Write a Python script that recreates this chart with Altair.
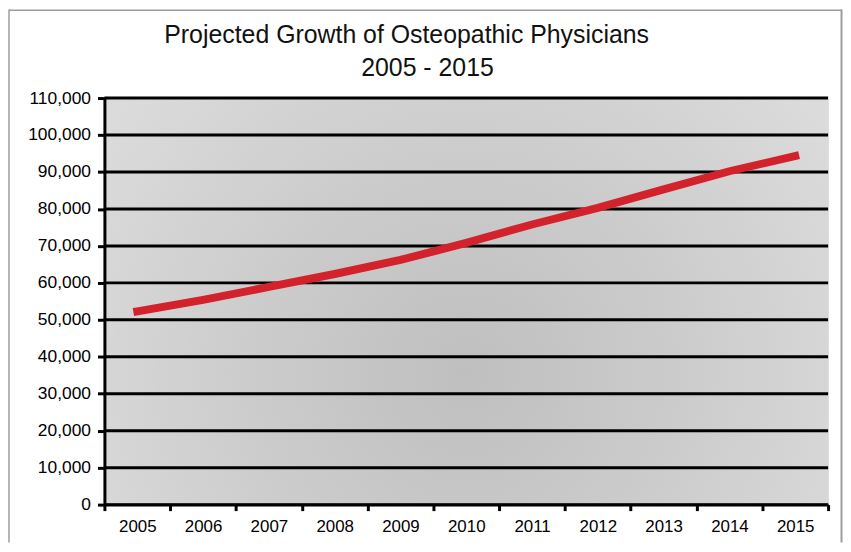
import altair as alt
import pandas as pd

years = ["2005", "2006", "2007", "2008", "2009", "2010", "2011", "2012", "2013", "2014", "2015"]
physicians = [52300, 55400, 58900, 62400, 66200, 70800, 75800, 80300, 85300, 90200, 94300]
y_ticks = [0, 10000, 20000, 30000, 40000, 50000, 60000, 70000, 80000, 90000, 100000, 110000]
title_line1 = "Projected Growth of Osteopathic Physicians"
title_line2 = "2005 - 2015"

W, H = 728, 409
PAD_L, PAD_T, PAD_R, PAD_B = 97, 89, 15, 38
FONT = "Liberation Sans"

df = pd.DataFrame({"year": years, "value": physicians})
grid_df = pd.DataFrame({"value": y_ticks})
one = pd.DataFrame({"a": [0]})

y_scale = alt.Scale(domain=[0, 110000], nice=False)

x_enc = alt.X(
    "year:O",
    sort=years,
    scale=alt.Scale(type="band", paddingInner=0, paddingOuter=0),
    axis=alt.Axis(
        title=None, labelAngle=0, tickBand="extent", tickSize=6, tickWidth=3,
        tickColor="black", domainColor="black", domainWidth=3,
        labelFont=FONT, labelFontSize=17, labelColor="black", labelPadding=8,
        grid=False, zindex=1,
    ),
)
y_axis = alt.Axis(
    title=None, values=y_ticks, format=",.0f", tickSize=7, tickWidth=3,
    tickColor="black", domainColor="black", domainWidth=3,
    labelFont=FONT, labelFontSize=17.5, labelColor="black", labelPadding=7,
    grid=False, zindex=1,
)
y_enc = alt.Y("value:Q", scale=y_scale, axis=y_axis)

gradient = {
    "gradient": "radial",
    "x1": 0.5, "y1": 0.6, "r1": 0,
    "x2": 0.5, "y2": 0.6, "r2": 0.6,
    "stops": [
        {"offset": 0, "color": "#bfbfbf"},
        {"offset": 0.5, "color": "#cccccc"},
        {"offset": 1, "color": "#dbdbdb"},
    ],
}

bg = alt.Chart(one).mark_rect(color=gradient).encode(
    x=alt.value(0), x2=alt.value(W), y=alt.value(0), y2=alt.value(H)
)

grid = alt.Chart(grid_df).mark_rule(color="black", strokeWidth=3).encode(y=y_enc)

line = alt.Chart(df).mark_line(color="#d3222c", strokeWidth=8, strokeCap="square").encode(
    x=x_enc, y=y_enc
)

title1 = alt.Chart(one).mark_text(
    text=title_line1, font=FONT, fontSize=25, color="#111111",
    align="center", baseline="alphabetic",
).encode(x=alt.value(304), y=alt.value(-55))

title2 = alt.Chart(one).mark_text(
    text=title_line2, font=FONT, fontSize=25, color="#111111",
    align="center", baseline="alphabetic",
).encode(x=alt.value(325), y=alt.value(-22))

# outer panel frame
frame_left = alt.Chart(one).mark_rule(color="#9c9c9c", strokeWidth=1.5).encode(
    x=alt.value(-PAD_L + 1), y=alt.value(-PAD_T), y2=alt.value(H + PAD_B)
)
frame_top = alt.Chart(one).mark_rule(color="#9c9c9c", strokeWidth=1.5).encode(
    x=alt.value(-PAD_L + 1), x2=alt.value(W + PAD_R - 1), y=alt.value(-PAD_T + 0.75)
)
frame_right = alt.Chart(one).mark_rule(color="#9c9c9c", strokeWidth=2).encode(
    x=alt.value(W + PAD_R - 1.5), y=alt.value(-PAD_T), y2=alt.value(H + PAD_B)
)

chart = alt.layer(
    bg, grid, line, title1, title2, frame_left, frame_top, frame_right
).properties(
    width=W,
    height=H,
    autosize=alt.AutoSizeParams(type="none"),
    padding={"left": PAD_L, "top": PAD_T, "right": PAD_R, "bottom": PAD_B},
).configure_view(stroke=None).configure(background="white")

chart.save("out.html", embed_options={"renderer": "svg", "actions": False})
